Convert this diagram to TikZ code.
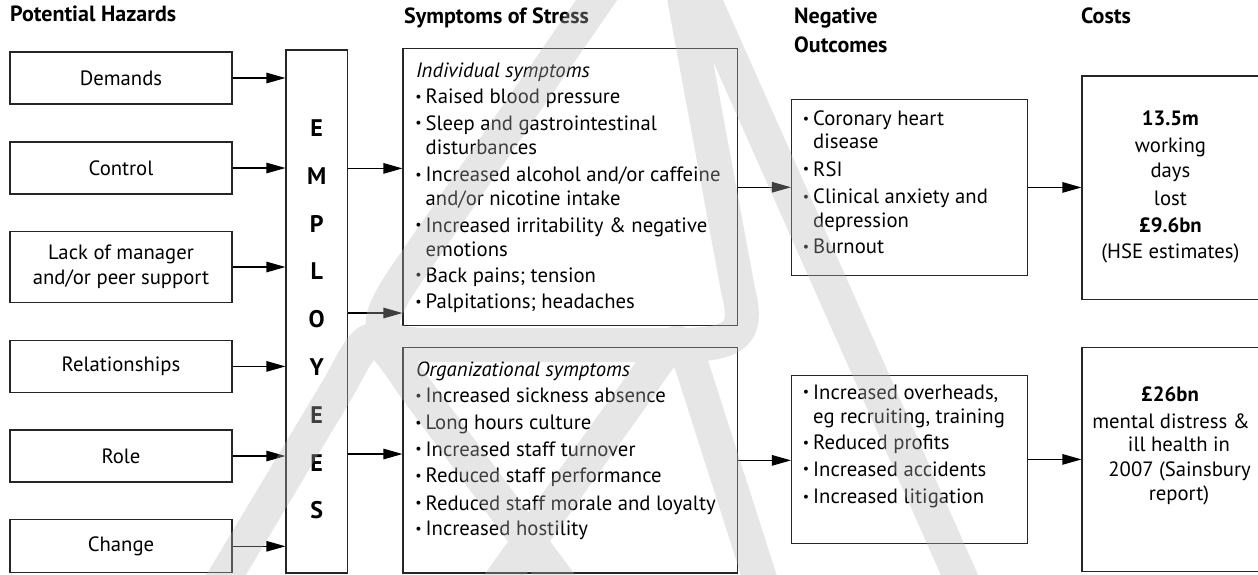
\documentclass[tikz,border=0pt]{standalone}
\usepackage{fontspec}
\setmainfont{PT Sans}
\usetikzlibrary{arrows.meta}
\definecolor{wmark}{RGB}{183,183,183}
\newcommand\bul{\llap{\raisebox{2.4pt}{\fontsize{14}{14}\selectfont\textbullet}\hspace{4pt}}}
\newcommand\tl[4]{\node[txt,anchor=base west] (#1) at (#2,{#3+5.8}) {#4};}
\newcommand\tc[4]{\node[txt,anchor=base] (#1) at (#2,{#3+5.8}) {#4};}
\begin{document}
\begin{tikzpicture}[x=1pt,y=-1pt,
  txt/.style={inner sep=0pt, font=\fontsize{20.7}{24}\selectfont},
  ttl/.style={inner sep=0pt, anchor=base west, font=\fontsize{22}{24}\selectfont\bfseries},
  box/.style={draw=black!85, line width=1.1pt, inner sep=0pt, font=\fontsize{20.7}{25}\selectfont, align=center},
  arr/.style={draw=black, line width=1.1pt, -{Triangle[length=19pt,width=10.5pt]}},
  lett/.style={inner sep=0pt, font=\fontsize{24}{24}\selectfont\bfseries},
  wm/.style={draw=wmark, opacity=0.35, line width=34pt, line join=round}]
\useasboundingbox (0,0) rectangle (1258,574);
\clip (0,0) rectangle (1258,574);
% titles
\node[ttl] (t1) at (10,21) {Potential Hazards};
\node[ttl] (t2) at (404,23.5) {Symptoms of Stress};
\node[ttl] (t3) at (794,23.5) {Negative};
\node[ttl] (t4) at (794,52.8) {Outcomes};
\node[ttl] (t5) at (1081,23.5) {Costs};
% hazards
\node[box, minimum width=222, minimum height=52] (hz1) at (121,78) {Demands};
\node[box, minimum width=222, minimum height=52] (hz2) at (121,168) {Control};
\node[box, minimum width=222, minimum height=71.5] (hz3) at (121,267) {Lack of manager\\and/or peer support};
\node[box, minimum width=222, minimum height=52] (hz4) at (121,366.4) {Relationships};
\node[box, minimum width=222, minimum height=52] (hz5) at (121,456) {Role};
\node[box, minimum width=222, minimum height=53] (hz6) at (121,546.3) {Change};
% employees
\node[box, minimum width=61.5, minimum height=523] (emp) at (316.75,311.5) {};
\foreach \L [count=\k] in {E,M,P,L,O,Y,E,E,S}
  \node[lett] (emp\k) at (316.75,{128+47.8*(\k-1)}) {\L};
\foreach \k in {1,...,6}
  \draw[arr] (hz\k.east) -- (hz\k.east -| emp.west);
% symptom boxes
\node[box, minimum width=334.3, minimum height=277.1] (ind) at (570.15,187.25) {};
\node[box, minimum width=334.3, minimum height=225.3] (org) at (570.15,460.35) {};
\coordinate (e1) at (347.5,168.4);
\coordinate (e2) at (347.5,313);
\coordinate (e3) at (347.5,454);
\draw[arr] (e1) -- (e1 -| ind.west);
\draw[arr] (e2) -- (e2 -| ind.west);
\draw[arr] (e3) -- (e3 -| org.west);
\tl{i0}{415.8}{71.4}{\textit{Individual symptoms}}
\tl{i1}{425.5}{97.7}{\bul Raised blood pressure}
\tl{i2}{425.5}{124.4}{\bul Sleep and gastrointestinal}
\tl{i3}{425.5}{148.2}{disturbances}
\tl{i4}{425.5}{175.7}{\bul Increased alcohol and/or caffeine}
\tl{i5}{425.5}{199.5}{and/or nicotine intake}
\tl{i6}{425.5}{226.2}{\bul Increased irritability \& negative}
\tl{i7}{425.5}{250.7}{emotions}
\tl{i8}{425.5}{276.3}{\bul Back pains; tension}
\tl{i9}{425.5}{303}{\bul Palpitations; headaches}
\tl{o0}{415.8}{370.4}{\textit{Organizational symptoms}}
\tl{o1}{425.5}{397}{\bul Increased sickness absence}
\tl{o2}{425.5}{423.9}{\bul Long hours culture}
\tl{o3}{425.5}{450.2}{\bul Increased staff turnover}
\tl{o4}{425.5}{477}{\bul Reduced staff performance}
\tl{o5}{425.5}{504.4}{\bul Reduced staff morale and loyalty}
\tl{o6}{425.5}{530}{\bul Increased hostility}
% negative outcomes
\node[box, minimum width=236.3, minimum height=175.7] (neg1) at (909.65,187.45) {};
\node[box, minimum width=236.3, minimum height=168.4] (neg2) at (909.65,459.4) {};
\draw[arr] (ind.east) -- (ind.east -| neg1.west);
\draw[arr] (org.east) -- (org.east -| neg2.west);
\tl{n1}{813}{119.7}{\bul Coronary heart}
\tl{n2}{813}{142.8}{disease}
\tl{n3}{813}{170.2}{\bul RSI}
\tl{n4}{813}{197.7}{\bul Clinical anxiety and}
\tl{n5}{813}{221.4}{depression}
\tl{n6}{813}{247.8}{\bul Burnout}
\tl{m1}{813}{393.5}{\bul Increased overheads,}
\tl{m2}{813}{417.3}{eg recruiting, training}
\tl{m3}{813}{444}{\bul Reduced profits}
\tl{m4}{813}{470.4}{\bul Increased accidents}
\tl{m5}{813}{497.8}{\bul Increased litigation}
% costs
\node[box, minimum width=183, minimum height=223.4] (cost1) at (1173.5,187.7) {};
\node[box, minimum width=183, minimum height=224] (cost2) at (1173.5,459.7) {};
\draw[arr] (neg1.east) -- (neg1.east -| cost1.west);
\draw[arr] (neg2.east) -- (neg2.east -| cost2.west);
\tc{c1}{1170.4}{119.7}{\textbf{13.5m}}
\tc{c2}{1170.4}{146.4}{working}
\tc{c3}{1170.4}{172}{days}
\tc{c4}{1170.4}{199.5}{lost}
\tc{c5}{1170.4}{226.2}{\textbf{£9.6bn}}
\tc{c6}{1170.4}{252.6}{(HSE estimates)}
\tc{d1}{1170}{395.3}{\textbf{£26bn}}
\tc{d2}{1171}{422.8}{mental distress \&}
\tc{d3}{1179}{445.8}{ill health in}
\tc{d4}{1179.6}{470.4}{2007 (Sainsbury}
\tc{d5}{1179}{494.9}{report)}
% watermark (faint overlay)
\draw[wm] (666,-100) -- (408,272) .. controls (372,324) and (370,345) .. (430,345)
  -- (680,345) .. controls (742,345) and (748,330) .. (738,290) -- (666,-100)
  (205,610) -- (340,385) .. controls (372,325) .. (413,385) -- (580,610)
  (480,610) -- (640,386) .. controls (680,328) .. (699,388) -- (770,610)
  (700,-10) -- (975,610);
\end{tikzpicture}
\end{document}
